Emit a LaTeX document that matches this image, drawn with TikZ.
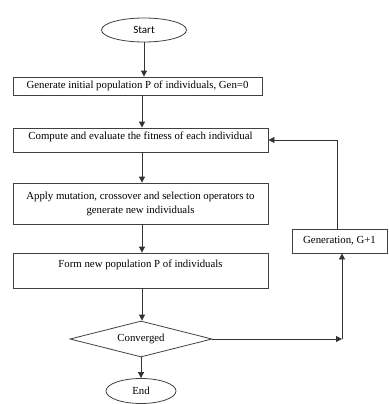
\documentclass[tikz,border=0pt]{standalone}
\usepackage{fontspec}
\setmainfont{Liberation Serif}
\newfontfamily\startfont{Carlito}
\usetikzlibrary{shapes.geometric,arrows.meta}
\begin{document}
\begin{tikzpicture}[x=1pt,y=-1pt,
  line width=0.8pt,
  every node/.style={font=\fontsize{10.8}{14}\selectfont, text=black},
  box/.style={draw=black!75, rectangle, inner sep=0pt},
  oval/.style={draw=black!75, ellipse, inner sep=0pt},
  conn/.style={draw=black!80, -{Triangle[length=6pt,width=6pt]}},
  plain/.style={draw=black!80}]
\useasboundingbox (0,0) rectangle (388,404);
\node[oval, minimum width=85, minimum height=24, font=\startfont\fontsize{11}{13}\selectfont] (start) at (144,30) {Start};
\node[box, minimum width=249, minimum height=18] (b1) at (137.5,86) {Generate initial population P of individuals, Gen=0};
\node[box, minimum width=255, minimum height=24] (b2) at (140.5,140) {};
\node (t2) at (140.5,136.5) {Compute and evaluate the fitness of each individual};
\node[box, minimum width=255, minimum height=41, align=center] (b3) at (140.5,203.5) {Apply mutation, crossover and selection operators to\\generate new individuals};
\node[box, minimum width=255, minimum height=35] (b4) at (140.5,270.5) {};
\node (t4) at (140.5,265) {Form new population P of individuals};
\node[draw=black!75, diamond, inner sep=0pt, aspect=3.9, minimum width=142, minimum height=36] (dia) at (141,339) {Converged};
\node[oval, minimum width=70, minimum height=25] (end) at (141,391) {End};
\node[box, minimum width=95, minimum height=24] (gen) at (339.5,241) {Generation, G+1};
\coordinate (c1) at (342,339);
\coordinate (col) at (142,0);
\draw[conn] (start.south) -- (start.south |- b1.north);
\draw[conn] (b1.south -| col) -- (b2.north -| col);
\draw[conn] (b2.south -| col) -- (b3.north -| col);
\draw[conn] (b3.south -| col) -- (b4.north -| col);
\draw[conn] (b4.south -| col) -- (dia.north -| col);
\draw[conn] (dia.south) -- (end.north);
\draw[conn] (dia.east) -- (c1);
\draw[conn] (c1) -- (gen.south -| c1);
\draw[conn] (gen.north -| 337,0) |- (b2.east);
\end{tikzpicture}
\end{document}
